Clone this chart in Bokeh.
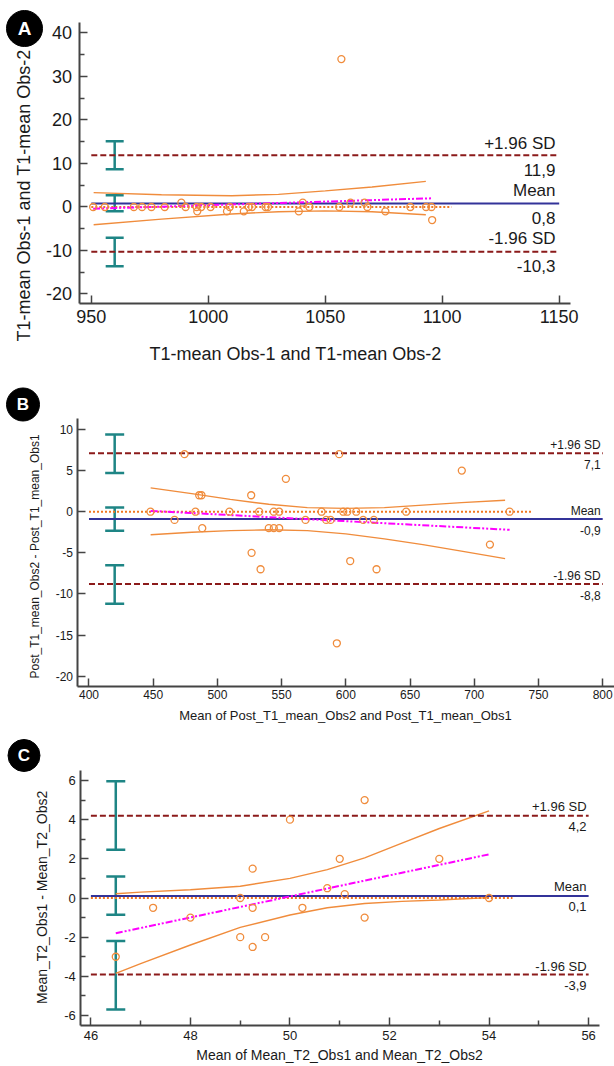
import math
from bokeh.plotting import figure
from bokeh.layouts import column
from bokeh.models import Range1d, FixedTicker, Label, ColumnDataSource, Whisker, TeeHead
from bokeh.embed import file_html
from bokeh.resources import INLINE

FONT = "Liberation Sans"
C_LIMIT = "#8B1A1A"
C_MEAN = "#333399"
C_ORANGE = "#F08C3C"
C_DOT = "#F07820"
C_REG = "#FF00FF"
C_TEAL = "#1E8585"
C_AXIS = "#444444"
C_TEXT = "#1a1a1a"

# ---------------- Panel A data ----------------
A_x = [950.8, 955.8, 968.2, 971.7, 975.7, 981.4, 988.5, 990.3, 995.0, 995.3, 997.0, 1001.0,
       1008.0, 1009.2, 1015.2, 1017.3, 1018.7, 1024.5, 1025.5, 1038.7, 1040.4, 1043.2, 1056.0,
       1056.9, 1060.8, 1066.8, 1068.0, 1075.7, 1086.4, 1093.1, 1095.4, 1095.7]
A_y = [0, 0, 0, 0, 0, 0, 1, 0, 0, -1, 0, 0, -1, 0, -1, 0, 0, 0, 0, -1, 1, 0, 0, 34, 1, 1, 0,
       -1, 0, 0, 0, -3]
A_limits = [11.9, 0.8, -10.3]           # +1.96 SD, mean, -1.96 SD
A_limit_text = ["11,9", "0,8", "-10,3"]
A_line_span = [950, 1150]
A_zero_span = [950, 1104]
A_reg_x = [950.8, 1095.7]
A_reg_y = [-0.4, 2.0]
A_ci_x = [951, 980, 1010, 1030, 1050, 1070, 1093]
A_ci_up = [3.3, 2.8, 2.6, 2.9, 3.7, 4.6, 5.9]
A_ci_lo = [-4.1, -2.8, -1.6, -1.1, -0.9, -1.1, -1.8]
A_err_base = [960, 960, 960]
A_err_up = [15.1, 2.7, -7.1]
A_err_lo = [8.7, -1.0, -13.6]
A_xticks = [950, 1000, 1050, 1100, 1150]
A_yticks = [-20, -10, 0, 10, 20, 30, 40]
A_yminor = [-15, -5, 5, 15, 25, 35]
A_xtitle = "T1-mean Obs-1 and T1-mean Obs-2"
A_ytitle = "T1-mean Obs-1 and T1-mean Obs-2"

# ---------------- Panel B data ----------------
B_x = [447.9, 466.6, 474.4, 482.9, 485.8, 487.6, 488.2, 509.4, 526.3, 526.6, 532.5, 533.6,
       540.0, 543.9, 543.9, 548.1, 548.1, 553.3, 568.6, 581.1, 584.7, 588.1, 593.0, 594.8,
       598.0, 601.1, 603.4, 608.1, 613.5, 621.8, 623.9, 647.0, 690.3, 712.2, 727.5]
B_y = [0, -1, 7, 0, 2, 2, -2, 0, 2, -5, 0, -7, -2, 0, -2, 0, -2, 4, -1, 0, -1, -1, -16, 7,
       0, 0, -6, 0, -1, -1, -7, 0, 5, -4, 0]
B_limits = [7.1, -0.9, -8.8]
B_limit_text = ["7,1", "-0,9", "-8,8"]
B_line_span = [400, 800]
B_zero_span = [400, 745]
B_reg_x = [448, 727.5]
B_reg_y = [0.1, -2.2]
B_ci_x = [448, 480, 510, 540, 570, 600, 630, 660, 690, 724]
B_ci_up = [2.9, 2.2, 1.5, 0.9, 0.5, 0.4, 0.5, 0.8, 1.1, 1.4]
B_ci_lo = [-2.8, -2.5, -2.3, -2.2, -2.3, -2.7, -3.3, -4.0, -4.8, -5.7]
B_err_base = [420, 420, 420]
B_err_up = [9.4, 0.5, -6.5]
B_err_lo = [4.7, -2.3, -11.2]
B_xticks = [400, 450, 500, 550, 600, 650, 700, 750, 800]
B_yticks = [-20, -15, -10, -5, 0, 5, 10]
B_xtitle = "Mean of Post_T1_mean_Obs2 and Post_T1_mean_Obs1"
B_ytitle = "Post_T1_mean_Obs2 - Post_T1_mean_Obs1"

# ---------------- Panel C data ----------------
C_x = [46.5, 47.25, 48.0, 49.0, 49.0, 49.25, 49.25, 49.25, 49.5, 50.0, 50.25, 50.75, 51.0,
       51.1, 51.5, 51.5, 53.0, 54.0]
C_y = [-3, -0.5, -1, 0, -2, 1.5, -0.5, -2.5, -2, 4, -0.5, 0.5, 2, 0.2, 5, -1, 2, 0]
C_limits = [4.2, 0.1, -3.9]
C_limit_text = ["4,2", "0,1", "-3,9"]
C_line_span = [46, 56]
C_zero_span = [46, 54.47]
C_reg_x = [46.5, 54.0]
C_reg_y = [-1.8, 2.23]
C_ci_x = [46.5, 47, 48, 49, 50, 50.75, 51.5, 52.25, 53, 54]
C_ci_up = [0.22, 0.3, 0.42, 0.6, 1.0, 1.45, 2.05, 2.8, 3.55, 4.45]
C_ci_lo = [-3.85, -3.35, -2.4, -1.5, -0.87, -0.5, -0.28, -0.17, -0.1, 0.02]
C_err_base = [46.5, 46.5, 46.5]
C_err_up = [5.96, 1.1, -2.2]
C_err_lo = [2.47, -0.85, -5.69]
C_xticks = [46, 48, 50, 52, 54, 56]
C_xminor = [47, 49, 51, 53, 55]
C_yticks = [-6, -4, -2, 0, 2, 4, 6]
C_yminor = [-5, -3, -1, 1, 3, 5]
C_xtitle = "Mean of Mean_T2_Obs1 and Mean_T2_Obs2"
C_ytitle = "Mean_T2_Obs1 - Mean_T2_Obs2"

W = 614


def make_fig(h, xr, yr, x_axis_at, y_axis_at, x_bounds, y_bounds, tick_size, x_standoff,
             y_standoff, xticks, xminor, yticks, yminor):
    p = figure(width=W, height=h, x_range=Range1d(*xr), y_range=Range1d(*yr),
               output_backend="svg", toolbar_location=None, title=None,
               min_border_left=0, min_border_right=0, min_border_top=0, min_border_bottom=0)
    p.grid.visible = False
    p.outline_line_color = None
    xa, ya = p.xaxis[0], p.yaxis[0]
    xa.fixed_location = x_axis_at
    ya.fixed_location = y_axis_at
    xa.bounds = x_bounds
    ya.bounds = y_bounds
    xa.major_label_standoff = x_standoff
    ya.major_label_standoff = y_standoff
    xa.ticker = FixedTicker(ticks=xticks, minor_ticks=xminor)
    ya.ticker = FixedTicker(ticks=yticks, minor_ticks=yminor)
    # plain hyphen-minus labels, as in the original
    xa.major_label_overrides = {t: str(t) for t in xticks}
    ya.major_label_overrides = {t: str(t) for t in yticks}
    for ax in (xa, ya):
        ax.axis_line_color = C_AXIS
        ax.axis_line_width = 2
        ax.major_tick_line_color = C_AXIS
        ax.major_tick_line_width = 1.5
        ax.major_tick_in = 8
        ax.major_tick_out = 0
        ax.minor_tick_line_color = C_AXIS
        ax.minor_tick_line_width = 1.5
        ax.minor_tick_in = 5
        ax.minor_tick_out = 0
        ax.major_label_text_font = FONT
        ax.major_label_text_font_size = tick_size
        ax.major_label_text_color = C_TEXT
    return p


def draw_content(p, xs, ys, limits, span, zero_span, reg_x, reg_y, ci_x, ci_up, ci_lo,
                 eb, eu, el, cap, size):
    p.line(ci_x, ci_up, line_color=C_ORANGE, line_width=1.4)
    p.line(ci_x, ci_lo, line_color=C_ORANGE, line_width=1.4)
    p.line(zero_span, [0, 0], line_color=C_DOT, line_width=2, line_dash="2 2")
    for v in (limits[0], limits[2]):
        p.line(span, [v, v], line_color=C_LIMIT, line_width=2, line_dash="6 3")
    p.line(span, [limits[1], limits[1]], line_color=C_MEAN, line_width=2)
    p.line(reg_x, reg_y, line_color=C_REG, line_width=2, line_dash="7 2 2 2 2 2")
    p.scatter(xs, ys, marker="circle", size=size, fill_color=None, line_color=C_ORANGE,
              line_width=1.3)
    src = ColumnDataSource(dict(base=eb, upper=eu, lower=el))
    w = Whisker(source=src, base="base", upper="upper", lower="lower", dimension="height",
                line_color=C_TEAL, line_width=2.5,
                upper_head=TeeHead(size=cap, line_color=C_TEAL, line_width=2.5),
                lower_head=TeeHead(size=cap, line_color=C_TEAL, line_width=2.5))
    p.add_layout(w)


def add_text(p, x, y, text, size, align="right", angle=0.0, color=C_TEXT, bold=False):
    p.add_layout(Label(x=x, y=y, text=text, text_font=FONT, text_font_size=size,
                       text_color=color, text_align=align, text_baseline="middle",
                       angle=angle, text_font_style="bold" if bold else "normal"))


def add_badge(p, x, y, letter, diameter, size):
    p.scatter([x], [y], marker="circle", size=diameter, fill_color="black", line_color="black")
    add_text(p, x, y, letter, size, align="center", color="white", bold=True)


def limit_labels(p, x, ys, texts, size):
    heads = ["+1.96 SD", "Mean", "-1.96 SD"]
    for (ya, yb), head, t in zip(ys, heads, texts):
        add_text(p, x, ya, head, size)
        add_text(p, x, yb, t, size)


# ---------------- Panel A ----------------
pa = make_fig(372, (911.19, 1173.64), (-38.05, 47.47), -22.25, 945.17,
              (945.17, 1154.7), (-22.25, 42.48), "18px", 6, 8,
              A_xticks, [], A_yticks, A_yminor)
draw_content(pa, A_x, A_y, A_limits, A_line_span, A_zero_span, A_reg_x, A_reg_y,
             A_ci_x, A_ci_up, A_ci_lo, A_err_base, A_err_up, A_err_lo, 18, 7)
limit_labels(pa, 1148.42, [(14.71, 8.58), (3.71, -2.53), (-7.32, -13.64)], A_limit_text, "17px")
add_text(pa, 921.24, 2.64, A_ytitle, "18px", align="center", angle=math.pi / 2)
add_text(pa, 1037.28, -33.91, A_xtitle, "18px", align="center")
add_badge(pa, 921.45, 41.03, "A", 36, "19px")

# ---------------- Panel B ----------------
pb = make_fig(360, (331.09, 809.19), (-26.85, 16.93), -21.25, 391.43,
              (391.43, 809.0), (-21.25, 11.30), "12px", 4, 5,
              B_xticks, [], B_yticks, [])
draw_content(pb, B_x, B_y, B_limits, B_line_span, B_zero_span, B_reg_x, B_reg_y,
             B_ci_x, B_ci_up, B_ci_lo, B_err_base, B_err_up, B_err_lo, 19, 7)
limit_labels(pb, 798.45, [(8.08, 5.71), (0.04, -2.26), (-7.87, -10.16)], B_limit_text, "12px")
add_text(pb, 358.34, -5.44, B_ytitle, "12px", align="center", angle=math.pi / 2)
add_text(pb, 599.73, -24.78, B_xtitle, "13px", align="center")
add_badge(pb, 348.61, 13.04, "B", 33, "17px")

# ---------------- Panel C ----------------
# band of 333 px: page 732 .. 1065
pc = make_fig(333, (44.184, 56.52), (-8.553, 8.451), -6.511, 45.795,
              (45.795, 56.22), (-6.511, 6.511), "13px", 5, 5,
              C_xticks, C_xminor, C_yticks, C_yminor)
draw_content(pc, C_x, C_y, C_limits, C_line_span, C_zero_span, C_reg_x, C_reg_y,
             C_ci_x, C_ci_up, C_ci_lo, C_err_base, C_err_up, C_err_lo, 19, 7)
limit_labels(pc, 55.958, [(4.65, 3.67), (0.61, -0.42), (-3.48, -4.49)], C_limit_text, "13px")
add_text(pc, 45.018, 0.03, C_ytitle, "14px", align="center", angle=math.pi / 2)
add_text(pc, 50.995, -8.02, C_xtitle, "14px", align="center")
add_badge(pc, 44.656, 7.277, "C", 32, "17px")

layout = column(pa, pb, pc, spacing=0)
open("out.html", "w").write(file_html(layout, INLINE))
